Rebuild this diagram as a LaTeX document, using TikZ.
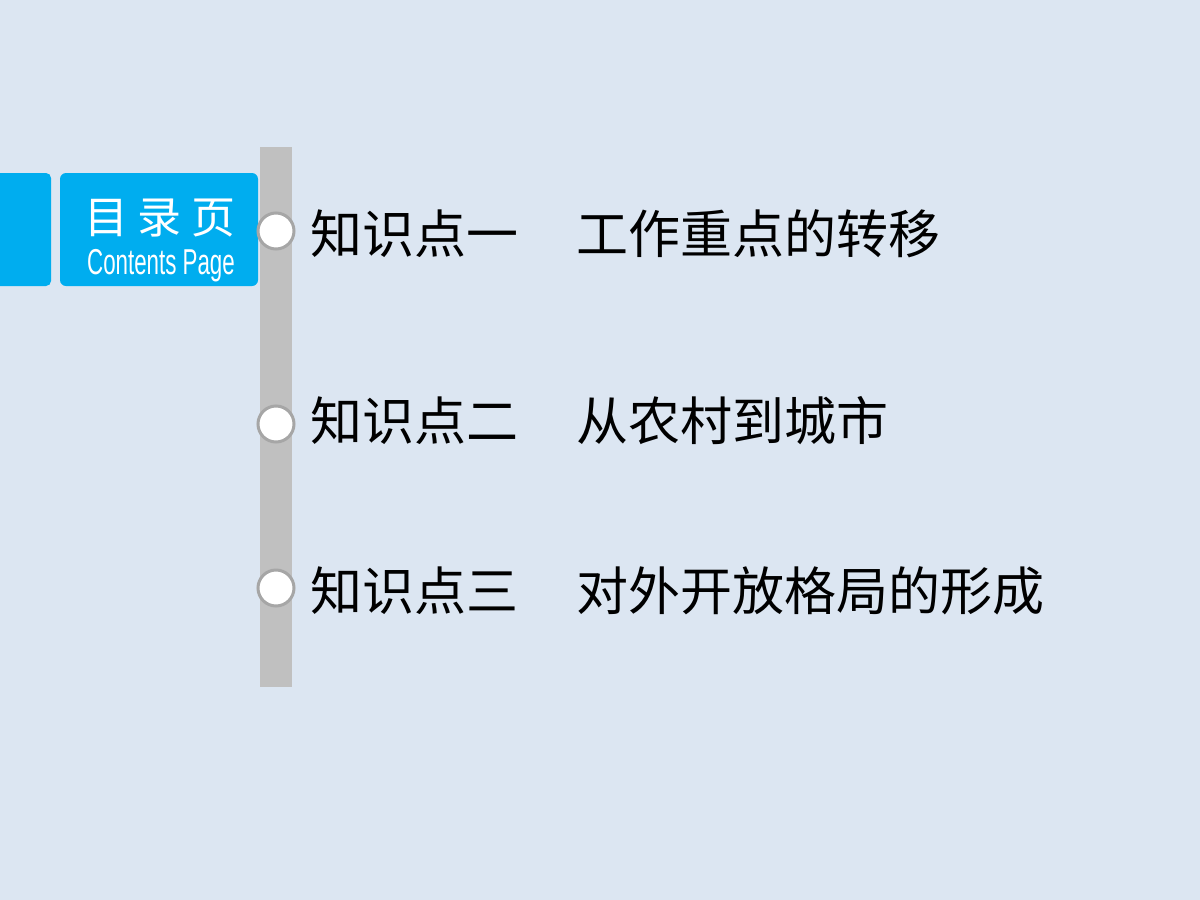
\documentclass[tikz,border=0pt]{standalone}
\usepackage{fontspec}
\setmainfont{Liberation Sans}
\newfontfamily\cjk{Noto Sans CJK SC}
\definecolor{bg}{HTML}{DCE6F2}
\definecolor{blu}{HTML}{00ADEF}
\definecolor{bar}{HTML}{C0C0C0}
\definecolor{ring}{HTML}{A6A6A6}
\begin{document}
\begin{tikzpicture}[x=1pt,y=-1pt,
  dot/.style={circle,fill=white,draw=ring,line width=3pt,minimum size=36pt,inner sep=0},
  item/.style={anchor=west,font=\cjk\fontsize{52}{56}\selectfont,inner sep=0}]
\fill[bg] (0,0) rectangle (1200,900);
\useasboundingbox (0,0) rectangle (1200,900);
\fill[blu,rounded corners=5pt] (-10,173) rectangle (51,286);
\fill[blu,rounded corners=6pt] (60,173) rectangle (258,286);
\node[text=white,font=\cjk\fontsize{44}{48}\selectfont] (t1) at (160,218) {目\hspace{10pt}录\hspace{10pt}页};
\node[text=white,xscale=0.62,font=\fontsize{36}{38}\selectfont] (t2) at (161,266) {Contents Page};
\fill[bar] (260,147) rectangle (292,687);
\node[dot] (c1) at (276,231) {};
\node[dot] (c2) at (276,424) {};
\node[dot] (c3) at (276,588) {};
\node[item] (a1) at (310,234) {知识点一};
\node[item] (b1) at (576,234) {工作重点的转移};
\node[item] (a2) at (310,421) {知识点二};
\node[item] (b2) at (576,421) {从农村到城市};
\node[item] (a3) at (310,591) {知识点三};
\node[item] (b3) at (576,591) {对外开放格局的形成};
\end{tikzpicture}
\end{document}
